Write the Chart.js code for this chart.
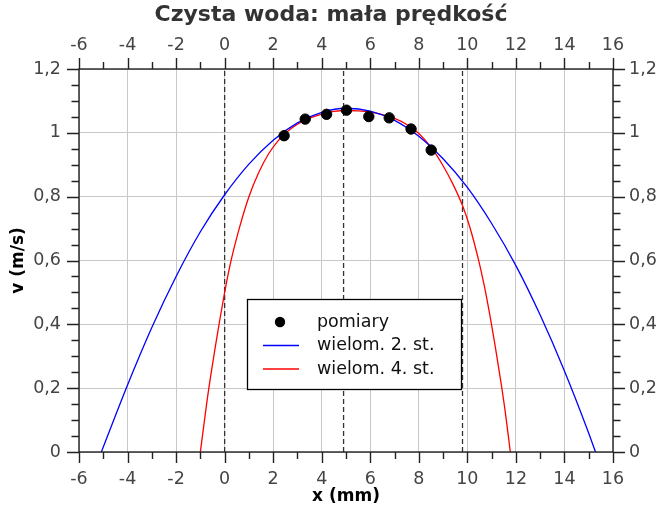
<!DOCTYPE html>
<html>
<head>
<meta charset="utf-8">
<script src="https://cdn.jsdelivr.net/npm/chart.js@4.4.1/dist/chart.umd.min.js"></script>
<style>
  html, body { margin: 0; padding: 0; background: #fff; }
  #wrap { width: 662px; height: 509px; }
</style>
</head>
<body>
<div id="wrap"><canvas id="profil"></canvas></div>
<script>
// Pomiary prędkości (x w mm, v w m/s)
const pomiaryX = [2.45, 3.32, 4.20, 5.02, 5.94, 6.78, 7.68, 8.51];
const pomiaryV = [0.991, 1.043, 1.058, 1.071, 1.051, 1.047, 1.012, 0.946];

// wielomian 2. stopnia - punkty
const wiel2X = [-5.08, -4, -3, -2, -1, 0, 1, 2, 3, 4, 5, 6, 7, 8, 9, 10, 11, 12, 13, 14, 15, 15.28];
const wiel2V = [0, 0.21, 0.39, 0.55, 0.69, 0.806, 0.902, 0.977, 1.031, 1.064, 1.077, 1.068, 1.039, 0.989, 0.919, 0.829, 0.716, 0.584, 0.429, 0.254, 0.059, 0];

// wielomian 4. stopnia
const wiel4X = [-1.0, -0.67, -0.22, 0, 0.22, 0.6, 1.0, 1.4, 1.8, 2.2, 2.6, 3.0, 3.5, 4.0, 4.5, 5.0, 5.5, 6.0, 6.5, 7.0, 7.5, 8.0, 8.5, 9.0, 9.4, 9.8, 10.1, 10.45, 10.7, 10.92, 11.15, 11.4, 11.58, 11.77];
const wiel4V = [0, 0.19, 0.405, 0.5, 0.585, 0.70, 0.80, 0.875, 0.933, 0.975, 1.005, 1.027, 1.046, 1.059, 1.067, 1.07, 1.069, 1.065, 1.057, 1.045, 1.026, 0.998, 0.955, 0.897, 0.84, 0.772, 0.705, 0.605, 0.52, 0.432, 0.33, 0.21, 0.115, 0];

// pionowe linie przerywane (granice kanału i środek)
const linieX = [0, 4.9, 9.8];

const xTicks = { min: -6, max: 16, step: 2 };
const yTicks = { min: 0, max: 1.2, step: 0.2 };

const FONT = 'DejaVu Sans';
const toPts = (xs, ys) => xs.map((x, i) => ({ x: x, y: ys[i] }));
const fmt = v => String(Math.round(v * 100) / 100).replace('.', ',');

const datasets = [
    {
        label: 'pomiary',
        data: toPts(pomiaryX, pomiaryV),
        showLine: false,
        pointRadius: 5.2,
        pointBackgroundColor: '#000',
        pointBorderColor: '#000',
        order: 1
    },
    {
        label: 'wielom. 2. st.',
        data: toPts(wiel2X, wiel2V),
        showLine: true,
        borderColor: '#0000ff',
        borderWidth: 1.3,
        pointRadius: 0,
        cubicInterpolationMode: 'monotone',
        order: 2
    },
    {
        label: 'wielom. 4. st.',
        data: toPts(wiel4X, wiel4V),
        showLine: true,
        borderColor: '#ff0000',
        borderWidth: 1.3,
        pointRadius: 0,
        cubicInterpolationMode: 'monotone',
        order: 3
    }
];
linieX.forEach(x => {
    datasets.push({
        label: '',
        data: [{ x: x, y: yTicks.min }, { x: x, y: yTicks.max }],
        showLine: true,
        borderColor: '#333',
        borderWidth: 1.3,
        borderDash: [5, 3],
        pointRadius: 0,
        order: 5
    });
});

// osie, podziałki główne i pomocnicze
const osiePlugin = {
    id: 'osie',
    afterDraw(chart) {
        const { ctx, chartArea: a, scales } = chart;
        const xs = scales.x, ys = scales.y;
        ctx.save();
        ctx.strokeStyle = '#222';
        ctx.lineWidth = 1.4;
        ctx.strokeRect(a.left, a.top, a.right - a.left, a.bottom - a.top);
        ctx.beginPath();
        for (let v = xTicks.min; v <= xTicks.max + 1e-9; v += 1) {
            const px = Math.round(xs.getPixelForValue(v)) + 0.5;
            const len = (Math.round(v) % 2 === 0) ? 11 : 7;
            ctx.moveTo(px, a.bottom); ctx.lineTo(px, a.bottom + len);
            ctx.moveTo(px, a.top); ctx.lineTo(px, a.top - len);
        }
        for (let i = 0; i <= 24; i++) {
            const v = i * 0.05;
            const py = Math.round(ys.getPixelForValue(v)) + 0.5;
            const len = (i % 4 === 0) ? 12 : 7.5;
            ctx.moveTo(a.left, py); ctx.lineTo(a.left - len, py);
            ctx.moveTo(a.right, py); ctx.lineTo(a.right + len, py);
        }
        ctx.stroke();
        ctx.restore();
    }
};

// legenda w ramce
const legendaPlugin = {
    id: 'legenda',
    afterDatasetsDraw(chart) {
        const ctx = chart.ctx;
        const box = { left: 247.5, top: 299.5, w: 214, h: 90 };
        ctx.save();
        ctx.fillStyle = '#fff';
        ctx.fillRect(box.left, box.top, box.w, box.h);
        ctx.strokeStyle = '#000';
        ctx.lineWidth = 1.3;
        ctx.strokeRect(box.left, box.top, box.w, box.h);
        const rows = [322, 345.5, 369];
        ctx.font = '17.5px "' + FONT + '"';
        ctx.textBaseline = 'middle';
        ctx.textAlign = 'left';
        chart.data.datasets.slice(0, 3).forEach((ds, i) => {
            const y = rows[i];
            if (i === 0) {
                ctx.fillStyle = '#000';
                ctx.beginPath();
                ctx.arc(280, y, 5.2, 0, Math.PI * 2);
                ctx.fill();
            } else {
                ctx.strokeStyle = ds.borderColor;
                ctx.lineWidth = 1.3;
                ctx.beginPath();
                ctx.moveTo(263, y); ctx.lineTo(299, y);
                ctx.stroke();
            }
            ctx.fillStyle = '#111';
            ctx.fillText(ds.label, 317, y);
        });
        ctx.restore();
    }
};

const tickFont = { family: FONT, size: 17.5 };
const titleFont = { family: FONT, size: 17, weight: 'bold' };

const config = {
    type: 'scatter',
    data: { datasets: datasets },
    options: {
        responsive: true,
        maintainAspectRatio: false,
        animation: false,
        layout: { padding: 0 },
        plugins: {
            legend: { display: false },
            tooltip: { enabled: false },
            title: {
                display: true,
                text: 'Czysta woda: mała prędkość',
                color: '#333',
                font: { family: FONT, size: 22, weight: 'bold' },
                padding: { top: 2, bottom: 4.6 }
            }
        },
        scales: {
            x: {
                type: 'linear', position: 'bottom',
                min: xTicks.min, max: xTicks.max,
                ticks: { stepSize: xTicks.step, color: '#444', font: tickFont, padding: 6, callback: fmt, maxRotation: 0 },
                grid: { color: '#c8c8c8', lineWidth: 1, tickLength: 11, tickColor: 'transparent' },
                border: { display: false },
                title: { display: true, text: 'x (mm)', color: '#000', font: titleFont, padding: { top: 0, bottom: 2 } },
                afterFit: s => { s.height = 57; }
            },
            x2: {
                type: 'linear', position: 'top',
                min: xTicks.min, max: xTicks.max,
                ticks: { stepSize: xTicks.step, color: '#444', font: tickFont, padding: 2, callback: fmt, maxRotation: 0 },
                grid: { color: 'transparent', tickLength: 11, tickColor: 'transparent' },
                border: { display: false },
                afterFit: s => { s.height = 36; }
            },
            y: {
                type: 'linear', position: 'left',
                min: yTicks.min, max: yTicks.max,
                ticks: { stepSize: yTicks.step, color: '#444', font: tickFont, padding: 6, callback: fmt },
                grid: { color: '#c8c8c8', lineWidth: 1, tickLength: 12, tickColor: 'transparent' },
                border: { display: false },
                title: { display: true, text: 'v (m/s)', color: '#000', font: titleFont, padding: { top: 8, bottom: 0 } },
                afterFit: s => { s.width = 79; }
            },
            y2: {
                type: 'linear', position: 'right',
                min: yTicks.min, max: yTicks.max,
                ticks: { stepSize: yTicks.step, color: '#444', font: tickFont, padding: 4, callback: fmt },
                grid: { color: 'transparent', tickLength: 12, tickColor: 'transparent' },
                border: { display: false },
                afterFit: s => { s.width = 49; }
            }
        }
    },
    plugins: [legendaPlugin, osiePlugin]
};

window.onload = () => {
    const ctx = document.getElementById('profil').getContext('2d');
    new Chart(ctx, config);
};
</script>
</body>
</html>
